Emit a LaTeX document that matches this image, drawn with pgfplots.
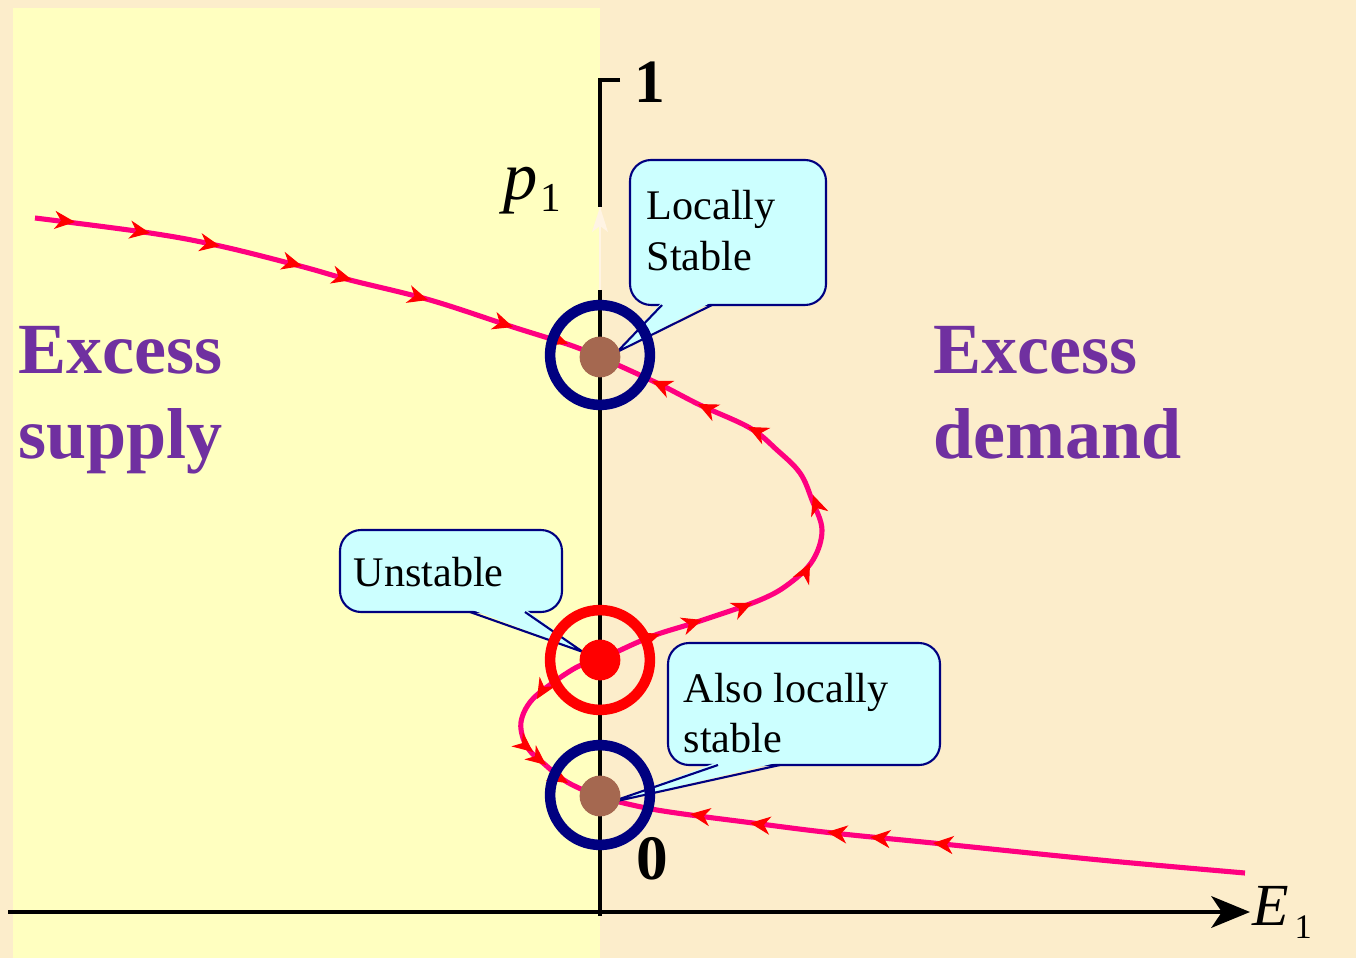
\documentclass[border=0pt]{standalone}
\usepackage{pgfplots}
\pgfplotsset{compat=1.18}
\usepackage{fontspec}
\setmainfont{Liberation Serif}
\usetikzlibrary{arrows.meta}
\definecolor{bgbeige}{RGB}{252,237,203}
\definecolor{bgyellow}{RGB}{255,255,192}
\definecolor{curvepink}{RGB}{255,0,128}
\definecolor{navy}{RGB}{0,0,128}
\definecolor{dotbrown}{RGB}{165,104,80}
\definecolor{calloutfill}{RGB}{204,255,255}
\definecolor{txtpurple}{RGB}{112,48,160}
\definecolor{fainttick}{RGB}{255,244,228}
\begin{document}
\begin{tikzpicture}
\begin{axis}[hide axis, scale only axis, width=13.56cm, height=9.58cm,
  xmin=0, xmax=1356, ymin=0, ymax=958, y dir=reverse, clip=false]
% background
\fill[bgbeige] (axis cs:0,0) rectangle (axis cs:1356,958);
\fill[bgyellow] (axis cs:13,8) rectangle (axis cs:600,958);
% axes
\draw[line width=1.1pt] (axis cs:620,80) -- (axis cs:600,80) -- (axis cs:600,207);
\draw[fainttick, line width=0.6pt] (axis cs:600,207) -- (axis cs:600,290);
\fill[fainttick] (axis cs:600,207) -- (axis cs:592,232) -- (axis cs:600,226) -- (axis cs:608,232) -- cycle;
\draw[line width=1.1pt] (axis cs:600,290) -- (axis cs:600,916);
\draw[line width=1.1pt, -{Stealth[length=11pt,width=9pt,inset=3pt]}] (axis cs:8,912) -- (axis cs:1250,912);
% curve
\addplot[smooth, tension=0.6, curvepink, line width=1.45pt]
  coordinates {(35,218) (150,233) (220,246) (300,266) (350,280) (430,300) (513,327) (570,345) (600,357)};
\addplot[smooth, tension=0.6, curvepink, line width=1.45pt]
  coordinates {(600,660) (650,637) (700,621) (760,600) (790,583) (813,560) (822,530) (812,500) (800,473) (777,450) (750,428) (700,405) (657,383) (600,357)};
\addplot[smooth, tension=0.6, curvepink, line width=1.45pt]
  coordinates {(600,660) (577,667) (543,690) (528,705) (521,722) (523,738) (530,751) (542,762) (567,782) (600,797)};
\addplot[smooth, tension=0.6, curvepink, line width=1.45pt]
  coordinates {(1245,873) (1100,860) (933,843) (833,833) (753,823) (657,810) (600,797)};
% direction arrowheads (base point and short direction vector)
\addplot[red, line width=0.3pt, quiver={u=\thisrow{u}, v=\thisrow{v}},
  -{Stealth[length=5.8pt,width=5.2pt,inset=1.8pt]}] table {
x y u v
72.0 221.7 2.98 0.30
147.0 232.5 2.96 0.50
217.05 245.44 2.95 0.56
299.1 265.2 2.90 0.78
349.1 279.2 2.90 0.78
425.1 299.1 2.87 0.86
510.2 326.1 2.85 0.94
565.2 342.9 2.80 1.07
657.2 635.0 2.83 -0.99
699.2 620.9 2.85 -0.94
749.3 604.2 2.74 -1.23
808.7 565.7 1.34 -2.68
814.0 497.8 -0.99 -2.83
750.7 428.3 -2.68 -1.34
700.7 405.3 -2.70 -1.30
654.7 382.2 -2.74 -1.23
538.5 696.4 -1.54 2.57
530.7 750.1 2.34 1.87
543.7 763.1 2.34 1.87
565.4 781.5 2.57 1.54
936.0 843.3 -2.98 -0.30
873.0 837.3 -2.98 -0.30
830.0 832.4 -2.98 -0.36
753.0 823.4 -2.97 -0.39
693.0 814.5 -2.97 -0.45
};
% rings and points
\addplot[only marks, mark=o, mark size=14.2pt, mark options={navy, line width=3pt}]
  coordinates {(600,355) (600,795)};
\addplot[only marks, mark=o, mark size=14.2pt, mark options={red, line width=3pt}]
  coordinates {(600,660)};
\addplot[only marks, mark=*, mark size=5.6pt, mark options={dotbrown, draw=dotbrown}]
  coordinates {(600,357) (600,796)};
\addplot[only marks, mark=*, mark size=5.6pt, mark options={red, draw=red}]
  coordinates {(600,660)};
% callouts
\filldraw[fill=calloutfill, draw=navy, line width=0.6pt, rounded corners=6pt] (axis cs:630,160) rectangle (axis cs:826,305);
\fill[calloutfill] (axis cs:662,302) -- (axis cs:712,302) -- (axis cs:617,352) -- cycle;
\draw[navy, line width=0.6pt] (axis cs:662,305) -- (axis cs:617,352) -- (axis cs:712,305);
\filldraw[fill=calloutfill, draw=navy, line width=0.6pt, rounded corners=6pt] (axis cs:340,530) rectangle (axis cs:562,612);
\fill[calloutfill] (axis cs:470,609) -- (axis cs:525,609) -- (axis cs:583,652) -- cycle;
\draw[navy, line width=0.6pt] (axis cs:470,612) -- (axis cs:583,652) -- (axis cs:525,612);
\filldraw[fill=calloutfill, draw=navy, line width=0.6pt, rounded corners=6pt] (axis cs:668,643) rectangle (axis cs:940,765);
\fill[calloutfill] (axis cs:718,762) -- (axis cs:780,762) -- (axis cs:608,803) -- cycle;
\draw[navy, line width=0.6pt] (axis cs:718,765) -- (axis cs:608,803) -- (axis cs:780,765);
% callout texts
\node[anchor=base west, inner sep=0pt, font=\fontsize{12}{14}\selectfont] at (axis cs:646,220) {Locally};
\node[anchor=base west, inner sep=0pt, font=\fontsize{12}{14}\selectfont] at (axis cs:646,271) {Stable};
\node[anchor=base west, inner sep=0pt, font=\fontsize{12}{14}\selectfont] at (axis cs:353,586) {Unstable};
\node[anchor=base west, inner sep=0pt, font=\fontsize{12}{14}\selectfont] at (axis cs:683,702) {Also locally};
\node[anchor=base west, inner sep=0pt, font=\fontsize{12}{14}\selectfont] at (axis cs:683,752) {stable};
% big labels
\node[anchor=base west, inner sep=0pt, text=txtpurple, font=\bfseries\fontsize{20.5}{24}\selectfont] at (axis cs:18,373) {Excess};
\node[anchor=base west, inner sep=0pt, text=txtpurple, font=\bfseries\fontsize{20.5}{24}\selectfont] at (axis cs:18,458) {supply};
\node[anchor=base west, inner sep=0pt, text=txtpurple, font=\bfseries\fontsize{20.5}{24}\selectfont] at (axis cs:933,373) {Excess};
\node[anchor=base west, inner sep=0pt, text=txtpurple, font=\bfseries\fontsize{20.5}{24}\selectfont] at (axis cs:933,458) {demand};
% axis labels
\node[anchor=base west, inner sep=0pt, font=\bfseries\fontsize{17.5}{18}\selectfont] at (axis cs:634,103) {1};
\node[anchor=base west, inner sep=0pt, font=\bfseries\fontsize{18}{18}\selectfont] at (axis cs:636,879) {0};
\node[anchor=base west, inner sep=0pt, font=\fontsize{19.5}{20}\selectfont] at (axis cs:503,200) {\itshape p};
\node[anchor=base west, inner sep=0pt, font=\fontsize{11.7}{12}\selectfont] at (axis cs:540,212) {1};
\node[anchor=base west, inner sep=0pt, font=\fontsize{17}{18}\selectfont] at (axis cs:1252,925) {\itshape E};
\node[anchor=base west, inner sep=0pt, font=\fontsize{9.8}{10}\selectfont] at (axis cs:1294,938) {1};
\end{axis}
\end{tikzpicture}
\end{document}
